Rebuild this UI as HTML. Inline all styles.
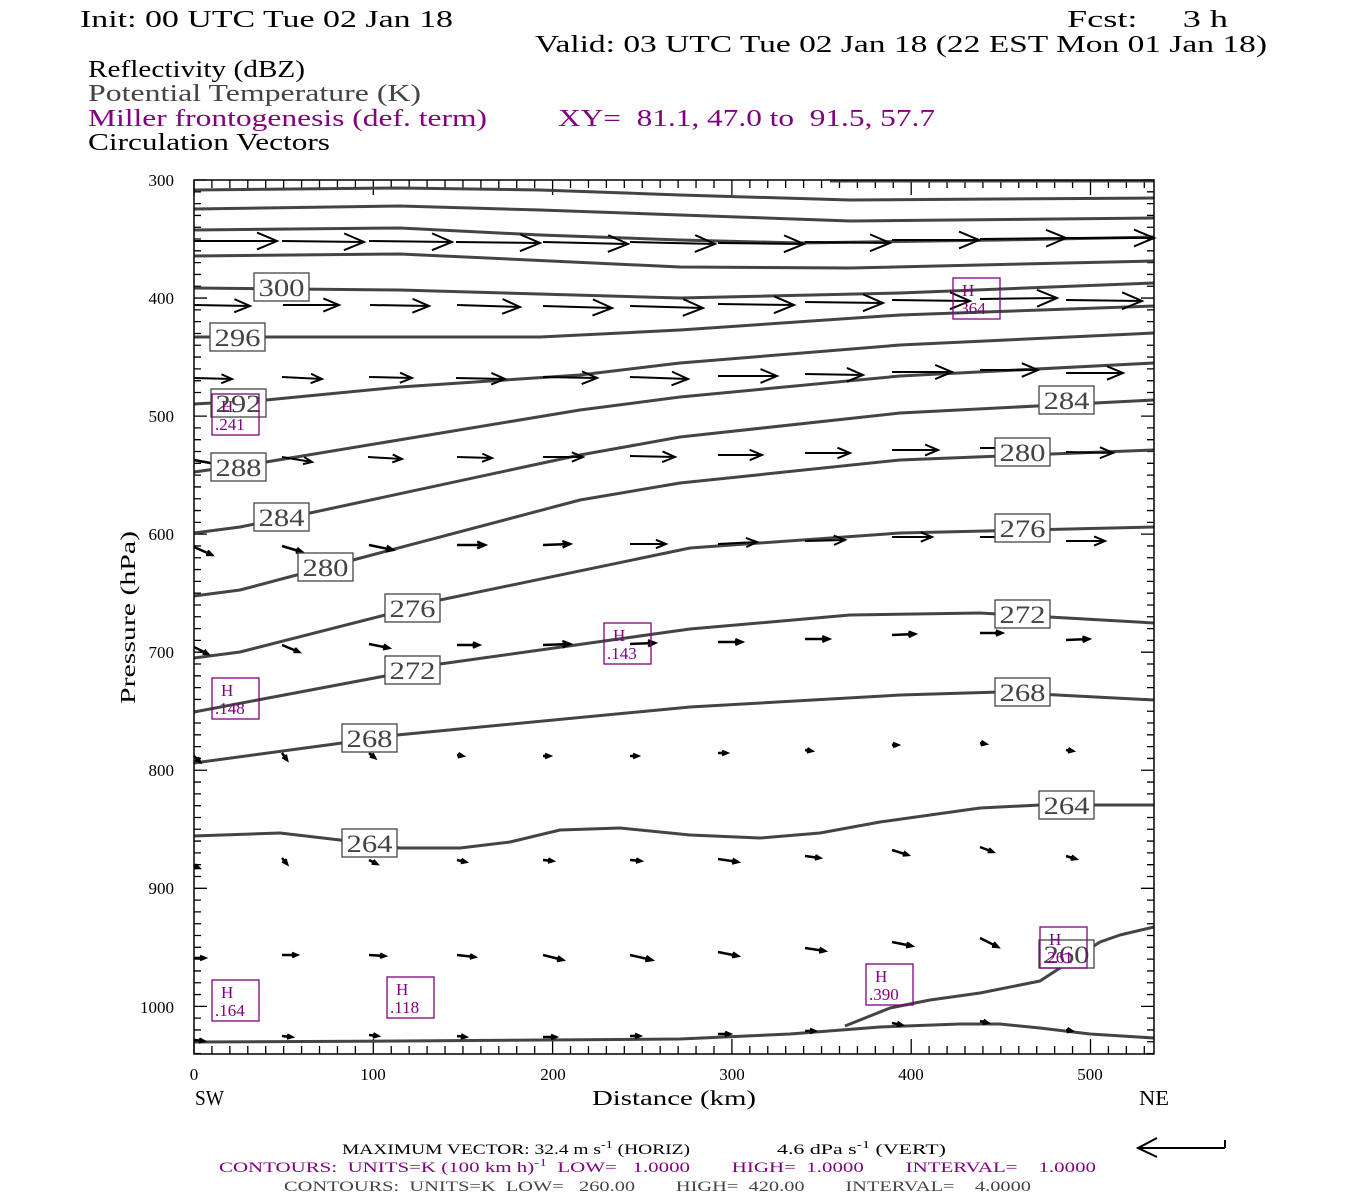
<!DOCTYPE html>
<html><head><meta charset="utf-8"><style>
html,body{margin:0;padding:0;background:#fff;width:1350px;height:1200px;overflow:hidden}
svg{display:block}
text{font-family:"Liberation Serif",serif}
</style></head><body>
<svg id="s" width="1350" height="1200" viewBox="0 0 1350 1200" xmlns="http://www.w3.org/2000/svg">
<rect width="1350" height="1200" fill="#fff"/>
<!-- header -->
<g font-size="24" fill="#000">
<text x="80" y="27" textLength="373" lengthAdjust="spacingAndGlyphs">Init: 00 UTC Tue 02 Jan 18</text>
<text x="1067" y="27" textLength="161" lengthAdjust="spacingAndGlyphs" xml:space="preserve">Fcst:     3 h</text>
<text x="535" y="52" textLength="732" lengthAdjust="spacingAndGlyphs">Valid: 03 UTC Tue 02 Jan 18 (22 EST Mon 01 Jan 18)</text>
<text x="88" y="77" textLength="217" lengthAdjust="spacingAndGlyphs">Reflectivity (dBZ)</text>
<text x="88" y="101" textLength="333" lengthAdjust="spacingAndGlyphs" fill="#444">Potential Temperature (K)</text>
<text x="88" y="126" textLength="399" lengthAdjust="spacingAndGlyphs" fill="#800080">Miller frontogenesis (def. term)</text>
<text x="558" y="126" textLength="377" lengthAdjust="spacingAndGlyphs" fill="#800080" xml:space="preserve">XY=  81.1, 47.0 to  91.5, 57.7</text>
<text x="88" y="150" textLength="242" lengthAdjust="spacingAndGlyphs">Circulation Vectors</text>
</g>
<g id="ticks" stroke="#000" stroke-width="1.3"></g>
<g id="cont" fill="none" stroke="#444" stroke-width="3" stroke-linejoin="round"></g>
<g id="arr" fill="none" stroke="#000" stroke-width="2"></g>
<g id="labs"></g>
<rect x="194" y="180" width="960" height="874" fill="none" stroke="#000" stroke-width="1.5"/>
<!-- axis labels -->
<g font-size="17" text-anchor="end">
<text x="174" y="186">300</text><text x="174" y="304">400</text><text x="174" y="422">500</text>
<text x="174" y="540">600</text><text x="174" y="658">700</text><text x="174" y="776">800</text>
<text x="174" y="894">900</text><text x="174" y="1013">1000</text>
</g>
<g font-size="17" text-anchor="middle">
<text x="194" y="1080">0</text><text x="373" y="1080">100</text><text x="553" y="1080">200</text>
<text x="732" y="1080">300</text><text x="911" y="1080">400</text><text x="1090" y="1080">500</text>
</g>
<g font-size="21">
<text x="195" y="1105" textLength="29" lengthAdjust="spacingAndGlyphs">SW</text>
<text x="592" y="1105" textLength="164" lengthAdjust="spacingAndGlyphs">Distance (km)</text>
<text x="1139" y="1105" textLength="30" lengthAdjust="spacingAndGlyphs">NE</text>
<text transform="translate(135,704) rotate(-90)" textLength="173" lengthAdjust="spacingAndGlyphs">Pressure (hPa)</text>
</g>
<!-- footer -->
<g font-size="15">
<text x="342" y="1154" textLength="348" lengthAdjust="spacingAndGlyphs">MAXIMUM VECTOR:  32.4 m s<tspan dy="-6" font-size="11">-1</tspan><tspan dy="6"> (HORIZ)</tspan></text>
<text x="777" y="1154" textLength="169" lengthAdjust="spacingAndGlyphs">4.6 dPa s<tspan dy="-6" font-size="11">-1</tspan><tspan dy="6"> (VERT)</tspan></text>
<text x="219" y="1172" fill="#800080" textLength="877" lengthAdjust="spacingAndGlyphs" xml:space="preserve">CONTOURS:  UNITS=K (100 km h)<tspan dy="-6" font-size="11">-1</tspan><tspan dy="6">  LOW=   1.0000        HIGH=  1.0000        INTERVAL=    1.0000</tspan></text>
<text x="284" y="1191" fill="#444" textLength="747" lengthAdjust="spacingAndGlyphs" xml:space="preserve">CONTOURS:  UNITS=K  LOW=   260.00        HIGH=  420.00        INTERVAL=    4.0000</text>
</g>
<g stroke="#000" stroke-width="2" fill="none">
<path d="M1225 1148 L1138 1148 M1157 1138 L1138 1148 L1157 1157 M1225 1148 L1225 1140"/>
</g>
</svg>
<script>
var NS="http://www.w3.org/2000/svg";
function el(p,t,a,txt){var e=document.createElementNS(NS,t);for(var k in a)e.setAttribute(k,a[k]);if(txt!==undefined)e.textContent=txt;document.getElementById(p).appendChild(e);return e;}
// ticks
var d="";
for(var km=0;km<=535;km+=10){var x=194+km*1.793;var L=(km%100==0)?15:8;d+="M"+x+" 1054 L"+x+" "+(1054-L)+"M"+x+" 180 L"+x+" "+(180+L);}
for(var p=300;p<=1040;p+=10){var y=180+(p-300)*1.1805;var L=(p%100==0)?13:7;d+="M194 "+y+" L"+(194+L)+" "+y+"M1154 "+y+" L"+(1154-L)+" "+y;}
el("ticks","path",{d:d});
// contours
var C=[
[[830,181],[1154,181]],
[[194,190],[400,188],[540,190],[680,195],[850,200],[1154,198]],
[[194,209],[400,206],[540,210],[680,215],[850,221],[1154,218]],
[[194,230],[400,228],[540,235],[680,240],[800,243],[1000,240],[1154,237]],
[[194,256],[400,254],[680,267],[850,268],[1154,261]],
[[194,288],[400,290],[680,298],[900,293],[1154,283]],
[[194,337],[540,337],[680,330],[900,315],[1154,306]],
[[194,404],[266,400],[400,387],[580,375],[680,363],[900,345],[1154,333]],
[[194,472],[266,462],[580,410],[680,397],[900,376],[1154,363]],
[[194,533],[240,527],[310,513],[580,455],[680,437],[900,413],[1154,400]],
[[194,596],[240,590],[353,560],[580,500],[680,483],[900,460],[1154,450]],
[[194,658],[240,652],[385,615],[440,600],[690,548],[900,533],[1154,527]],
[[194,712],[385,676],[440,664],[690,629],[850,615],[980,613],[1154,623]],
[[194,763],[342,743],[397,735],[690,707],[900,695],[1000,692],[1154,700]],
[[194,836],[280,833],[340,840],[400,848],[460,848],[510,842],[560,830],[620,828],[690,835],[760,838],[820,833],[880,822],[980,808],[1040,805],[1154,805]],
[[194,1042],[400,1041],[680,1039],[790,1034],[880,1027],[960,1024],[1000,1024],[1040,1028],[1090,1034],[1154,1038]],
[[845,1026],[890,1008],[930,1000],[980,993],[1040,981],[1100,942],[1120,935],[1154,927]]
];
C.forEach(function(c){el("cont","polyline",{points:c.map(function(q){return q.join(",")}).join(" ")});});
// arrows
var A=[
// row1
[194,241,277,241],[282,241,364,242],[369,241,452,242],[456,242,540,243],[543,242,628,244],[630,242,715,244],[718,243,804,244],[805,242,890,243],[892,240,979,240],[980,239,1066,238],[1066,238,1154,238],
// row2
[194,305,250,306],[283,305,339,305],[370,305,429,306],[457,305,520,307],[543,306,612,308],[630,306,703,308],[718,304,794,305],[805,302,883,303],[892,300,970,301],[980,299,1057,298],[1066,300,1142,301],
// row3
[194,378,232,379],[282,377,322,379],[369,377,412,378],[456,378,505,379],[543,377,597,378],[630,377,688,379],[718,376,777,376],[805,374,863,375],[892,372,952,372],[980,370,1038,370],[1066,373,1123,373],
// row4
[194,460,221,465],[282,457,312,462],[368,457,402,459],[457,457,492,458],[543,457,583,457],[630,456,675,457],[718,455,762,455],[805,453,850,453],[892,450,938,450],[980,448,1027,448],[1066,452,1113,453],
// row5
[194,547,212,555],[282,546,302,552],[369,545,393,550],[457,545,485,545],[543,545,570,544],[630,544,666,544],[718,544,757,542],[805,541,845,540],[892,537,932,537],[980,537,1020,537],[1066,541,1105,541],
// row6
[194,647,208,654],[282,645,299,652],[369,644,389,648],[457,645,479,645],[543,645,570,644],[630,644,655,643],[718,642,742,642],[805,639,829,639],[892,635,915,634],[980,633,1002,633],[1066,640,1089,639],
// row7
[194,756,200,762],[282,753,287,760],[369,753,375,758],[457,755,463,756],[543,756,550,756],[630,756,638,756],[718,753,727,753],[805,750,812,751],[892,745,898,745],[980,743,986,744],[1066,750,1073,751],
// row8
[194,866,199,868],[282,858,287,864],[369,860,377,864],[457,860,466,862],[543,860,553,861],[630,860,641,861],[718,859,738,862],[805,856,820,858],[892,850,908,855],[980,847,993,852],[1066,856,1076,859],
// row9
[194,958,205,958],[282,955,297,955],[369,955,385,956],[457,955,475,957],[543,955,563,960],[630,955,652,960],[718,952,738,956],[805,948,825,951],[892,942,912,946],[980,938,998,947],[1066,945,1078,953],
// row10
[194,1040,204,1041],[282,1036,292,1037],[369,1035,378,1036],[457,1036,466,1037],[543,1037,556,1037],[630,1036,640,1036],[718,1034,730,1034],[805,1031,815,1031],[892,1023,902,1025],[980,1021,988,1023],[1066,1030,1072,1031]
];
A.forEach(function(a){
  var dx=a[2]-a[0],dy=a[3]-a[1],L=Math.sqrt(dx*dx+dy*dy);var ux=dx/L,uy=dy/L;
  var hl=Math.min(20,Math.max(5,L*0.28)),hw=hl*0.42;
  var bx=a[2]-ux*hl,by=a[3]-uy*hl;
  var p1=[bx-uy*hw,by+ux*hw],p2=[bx+uy*hw,by-ux*hw];
  var dd="M"+a[0]+" "+a[1]+" L"+a[2]+" "+a[3]+" M"+p1.join(" ")+" L"+a[2]+" "+a[3]+" L"+p2.join(" ");
  el("arr","path",{d:dd,"stroke-width":L<30?2.5:2});
});
// contour labels
var Lb=[[254,273,"300"],[210,323,"296"],[211,389,"292"],[211,453,"288"],[254,503,"284"],[298,553,"280"],[385,594,"276"],[385,656,"272"],[342,724,"268"],[342,829,"264"],
[1039,386,"284"],[995,438,"280"],[995,514,"276"],[995,600,"272"],[995,678,"268"],[1039,791,"264"],[1039,940,"260"]];
Lb.forEach(function(l){
  el("labs","rect",{x:l[0],y:l[1],width:55,height:28,fill:"#fff",stroke:"#444","stroke-width":1.3});
  el("labs","text",{x:l[0]+27.5,y:l[1]+23,"font-size":25,"text-anchor":"middle",fill:"#444",textLength:46,lengthAdjust:"spacingAndGlyphs"},l[2]);
});
// H boxes
var H=[[953,278,".364"],[212,394,".241"],[212,678,".148"],[604,623,".143"],[212,980,".164"],[387,977,".118"],[866,964,".390"],[1040,927,".261"]];
H.forEach(function(h){
  el("labs","rect",{x:h[0],y:h[1],width:47,height:41,fill:"none",stroke:"#800080","stroke-width":1.3});
  el("labs","text",{x:h[0]+9,y:h[1]+18,"font-size":17,fill:"#800080"},"H");
  el("labs","text",{x:h[0]+3,y:h[1]+36,"font-size":17,fill:"#800080"},h[2]);
});
</script>
</body></html>
